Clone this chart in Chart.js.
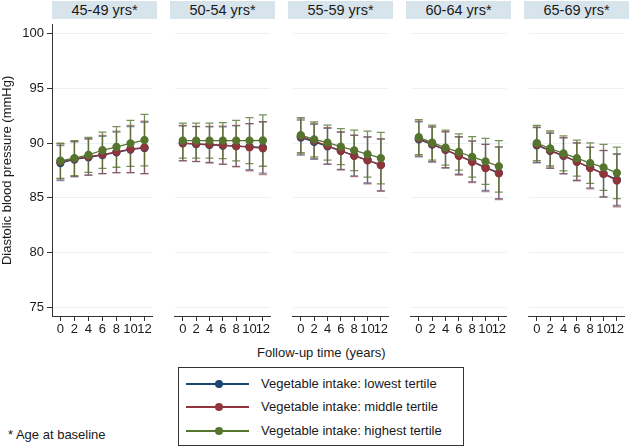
<!DOCTYPE html>
<html>
<head>
<meta charset="utf-8">
<script src="https://cdn.jsdelivr.net/npm/chart.js@4.4.1/dist/chart.umd.min.js"></script>
<style>
  body { margin: 0; background: #fff; font-family: "Liberation Sans", Arial, sans-serif; color: #1a1a1a; }
  #wrap { position: relative; width: 630px; height: 446px; overflow: hidden; }
  canvas { position: absolute; }
  .hdr { position: absolute; top: 1px; height: 18px; width: 105px; background: #d8e4ec;
         font-size: 14.5px; line-height: 18px; text-align: center; }
  .txt { position: absolute; font-size: 13px; white-space: nowrap; }
  #legend { position: absolute; left: 178px; top: 367px; width: 284px; height: 77px; border: 1px solid #333; }
  .row { position: absolute; left: 0; height: 20px; width: 100%; }
  .row .ln { position: absolute; left: 7px; width: 63px; top: 9px; height: 0; border-top: 2px solid; }
  .row .dot { position: absolute; left: 36px; top: 6px; width: 8px; height: 8px; border-radius: 50%; }
  .row .lab { position: absolute; left: 82px; top: 2px; font-size: 13px; }
</style>
</head>
<body>
<div id="wrap"></div>
<script>
// follow-up years and panel titles
const years = [0, 2, 4, 6, 8, 10, 12];
const ageGroups = ['45-49 yrs*', '50-54 yrs*', '55-59 yrs*', '60-64 yrs*', '65-69 yrs*'];
const yTicks = [75, 80, 85, 90, 95, 100];

// mean diastolic BP per age group (rows) and year (cols)
const lowestTertile = [
  [88.17, 88.50, 88.70, 88.90, 89.15, 89.40, 89.55],
  [89.97, 89.90, 89.83, 89.77, 89.72, 89.67, 89.60],
  [90.50, 90.10, 89.70, 89.28, 88.85, 88.45, 88.00],
  [90.33, 89.85, 89.37, 88.85, 88.32, 87.77, 87.27],
  [89.80, 89.28, 88.83, 88.30, 87.75, 87.20, 86.65]
];
const middleTertile = [
  [88.30, 88.55, 88.75, 88.95, 89.19, 89.45, 89.60],
  [90.00, 89.93, 89.87, 89.80, 89.72, 89.62, 89.52],
  [90.60, 90.20, 89.75, 89.30, 88.83, 88.42, 87.99],
  [90.40, 89.90, 89.40, 88.83, 88.29, 87.72, 87.24],
  [89.85, 89.32, 88.85, 88.29, 87.72, 87.18, 86.58]
];
const highestTertile = [
  [88.38, 88.62, 88.92, 89.34, 89.64, 89.97, 90.27],
  [90.22, 90.22, 90.22, 90.22, 90.22, 90.22, 90.23],
  [90.72, 90.33, 90.03, 89.67, 89.33, 88.98, 88.62],
  [90.53, 90.03, 89.58, 89.18, 88.74, 88.32, 87.87],
  [90.00, 89.50, 89.05, 88.62, 88.17, 87.78, 87.27]
];

// 95% CI half widths by year
const ciLowest = [1.60, 1.60, 1.65, 1.70, 1.85, 2.10, 2.35];
const ciMiddle = [1.60, 1.60, 1.65, 1.75, 1.90, 2.15, 2.40];
const ciHighest = [1.60, 1.60, 1.60, 1.65, 1.85, 2.10, 2.35];

const seriesNames = ['Vegetable intake: lowest tertile', 'Vegetable intake: middle tertile', 'Vegetable intake: highest tertile'];
const colors = ['#1a476f', '#90353b', '#55752f'];
const ciColors = ['rgba(26,71,111,0.6)', 'rgba(144,53,59,0.6)', 'rgba(85,117,47,0.8)'];

const wrap = document.getElementById('wrap');
const panelW = 105, pitch = 118, firstLeft = 52, areaTop = 20, areaH = 296, xAxisH = 24;

const errorBars = {
  id: 'errorBars',
  beforeDatasetsDraw(chart) {
    const ctx = chart.ctx, xs = chart.scales.x, ys = chart.scales.y;
    // draw lowest, middle, highest so highest ends on top
    [2, 1, 0].forEach(di => {
      const ds = chart.data.datasets[di];
      ds.ci.forEach((h, i) => {
        const x = xs.getPixelForValue(ds.data[i].x);
        const yHi = ys.getPixelForValue(ds.data[i].y + h);
        const yLo = ys.getPixelForValue(ds.data[i].y - h);
        ctx.save();
        ctx.strokeStyle = ds.ciColor;
        ctx.lineWidth = 1.3;
        ctx.beginPath();
        ctx.moveTo(x, yHi); ctx.lineTo(x, yLo);
        ctx.moveTo(x - 4, yHi); ctx.lineTo(x + 4, yHi);
        ctx.moveTo(x - 4, yLo); ctx.lineTo(x + 4, yLo);
        ctx.stroke();
        ctx.restore();
      });
    });
  }
};

function makeSet(idx, values, ci) {
  return {
    label: seriesNames[idx],
    data: years.map((yr, i) => ({ x: yr, y: values[i] })),
    ci: ci,
    ciColor: ciColors[idx],
    borderColor: colors[idx],
    backgroundColor: colors[idx],
    borderWidth: 1.3,
    pointRadius: 3.5,
    pointHoverRadius: 3.5,
    showLine: true,
    tension: 0
  };
}

ageGroups.forEach((name, p) => {
  const first = p === 0;
  const left = firstLeft + pitch * p;

  const hdr = document.createElement('div');
  hdr.className = 'hdr';
  hdr.style.left = left + 'px';
  hdr.textContent = name;
  wrap.appendChild(hdr);

  const cv = document.createElement('canvas');
  const w = first ? left + panelW : panelW;
  cv.width = w;
  cv.height = areaH + xAxisH;
  cv.style.left = (first ? 0 : left) + 'px';
  cv.style.top = areaTop + 'px';
  wrap.appendChild(cv);

  new Chart(cv.getContext('2d'), {
    type: 'scatter',
    data: {
      datasets: [
        makeSet(2, highestTertile[p], ciHighest),
        makeSet(1, middleTertile[p], ciMiddle),
        makeSet(0, lowestTertile[p], ciLowest)
      ]
    },
    options: {
      responsive: false,
      animation: false,
      events: [],
      layout: { padding: 0 },
      plugins: { legend: { display: false }, tooltip: { enabled: false } },
      scales: {
        x: {
          type: 'linear',
          min: -1.2,
          max: 13.1,
          afterBuildTicks: s => { s.ticks = years.map(v => ({ value: v })); },
          afterFit: s => { s.height = xAxisH; s.paddingLeft = 0; s.paddingRight = 0; },
          ticks: { autoSkip: false, maxRotation: 0, padding: 1, color: '#1a1a1a',
                   font: { family: 'Liberation Sans', size: 13 } },
          grid: { drawOnChartArea: false, tickLength: 5, tickColor: '#333' },
          border: { color: '#333', width: 1 }
        },
        y: {
          min: 74.2,
          max: 100.8,
          afterBuildTicks: s => { s.ticks = yTicks.map(v => ({ value: v })); },
          afterFit: s => { s.width = first ? firstLeft : 0; s.paddingTop = 0; s.paddingBottom = 0; },
          ticks: { display: first, padding: 3, color: '#1a1a1a',
                   font: { family: 'Liberation Sans', size: 13 } },
          grid: { color: '#ebf1f4', lineWidth: 1, drawTicks: first, tickLength: 5, tickColor: '#333' },
          border: { display: first, color: '#333', width: 1 },
          title: {
            display: first,
            text: 'Diastolic blood pressure (mmHg)',
            color: '#1a1a1a',
            padding: { top: 0, bottom: 0 },
            font: { family: 'Liberation Sans', size: 13 }
          }
        }
      }
    },
    plugins: [errorBars]
  });
});

// axis title, footnote and legend as page text
const xTitle = document.createElement('div');
xTitle.className = 'txt';
xTitle.style.left = '257px';
xTitle.style.top = '345px';
xTitle.textContent = 'Follow-up time (years)';
wrap.appendChild(xTitle);

const foot = document.createElement('div');
foot.className = 'txt';
foot.style.left = '8px';
foot.style.top = '427px';
foot.textContent = '* Age at baseline';
wrap.appendChild(foot);

const legend = document.createElement('div');
legend.id = 'legend';
seriesNames.forEach((s, i) => {
  const row = document.createElement('div');
  row.className = 'row';
  row.style.top = (6 + i * 23.3) + 'px';
  row.innerHTML = '<div class="ln" style="border-color:' + colors[i] + '"></div>' +
    '<div class="dot" style="background:' + colors[i] + '"></div>' +
    '<div class="lab">' + s + '</div>';
  legend.appendChild(row);
});
wrap.appendChild(legend);
</script>
</body>
</html>
